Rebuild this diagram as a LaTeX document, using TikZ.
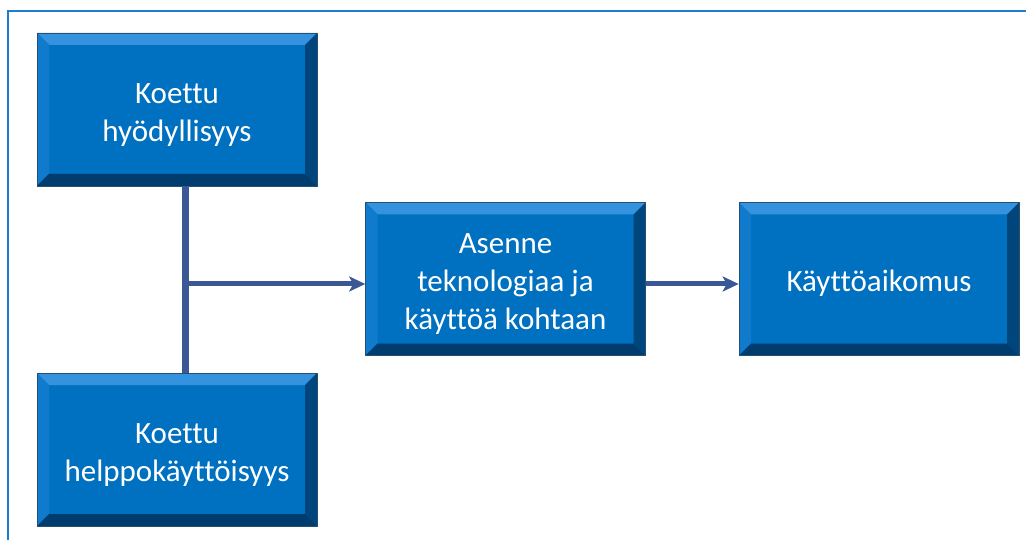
\documentclass[tikz,border=0pt]{standalone}
\usepackage{fontspec}
\setmainfont[Ligatures=NoCommon]{Carlito}
\usetikzlibrary{arrows.meta,calc}
\definecolor{face}{RGB}{0,112,192}
\definecolor{bevtop}{RGB}{52,146,222}
\definecolor{bevleft}{RGB}{16,122,204}
\definecolor{bevright}{RGB}{0,70,124}
\definecolor{bevbot}{RGB}{0,60,110}
\definecolor{linkc}{RGB}{58,88,150}
\definecolor{framec}{RGB}{30,125,205}
\newcommand{\bxtxt}[1]{\raisebox{-5pt}[\height][\depth]{\begin{tabular}{@{}c@{}}#1\end{tabular}}}
\tikzset{
  bevelbox/.style={fill=face, draw=bevbot!70!gray, line width=0.6pt,
    minimum width=280pt, minimum height=153pt, inner sep=0pt,
    text=white, align=center, font=\fontsize{31}{38}\selectfont,
    path picture={
      \coordinate (pnw) at (path picture bounding box.north west);
      \coordinate (pne) at (path picture bounding box.north east);
      \coordinate (psw) at (path picture bounding box.south west);
      \coordinate (pse) at (path picture bounding box.south east);
      \fill[bevtop] (pnw) -- (pne) -- ([xshift=-12pt,yshift=-12pt]pne) -- ([xshift=12pt,yshift=-12pt]pnw) -- cycle;
      \fill[bevleft] (pnw) -- (psw) -- ([xshift=12pt,yshift=12pt]psw) -- ([xshift=12pt,yshift=-12pt]pnw) -- cycle;
      \fill[bevright] (pne) -- (pse) -- ([xshift=-12pt,yshift=12pt]pse) -- ([xshift=-12pt,yshift=-12pt]pne) -- cycle;
      \fill[bevbot] (psw) -- (pse) -- ([xshift=-12pt,yshift=12pt]pse) -- ([xshift=12pt,yshift=12pt]psw) -- cycle;
    }},
  trunk/.style={draw=linkc, line width=7pt},
  link/.style={draw=linkc, line width=5pt, -{Stealth[length=16pt,width=15pt,inset=4pt]}},
  framel/.style={draw=framec, line width=2pt}
}
\begin{document}
\begin{tikzpicture}[x=1pt,y=-1pt]
\useasboundingbox (0,0) rectangle (1026,540);
\fill[white] (0,0) rectangle (1026,540);
\coordinate (fr) at (1026,11);
\coordinate (fc) at (8,11);
\coordinate (fb) at (8,540);
\draw[framel] (fb) -- (fc) -- (fr);
\node[bevelbox] (b1) at (177,109.5) {\bxtxt{Koettu\\hyödyllisyys}};
\node[bevelbox] (b2) at (177,449.5) {\bxtxt{Koettu\\helppokäyttöisyys}};
\node[bevelbox] (mid) at (505.5,279) {\bxtxt{Asenne\\teknologiaa ja\\käyttöä kohtaan}};
\node[bevelbox] (res) at (879,279) {\bxtxt{Käyttöaikomus}};
\coordinate (j) at (185,284);
\draw[trunk] (j |- b1.south) -- (j |- b2.north);
\draw[link] ([xshift=-3.5pt]j) -- (j -| mid.west);
\draw[link] (mid.east |- j) -- (res.west |- j);
\end{tikzpicture}
\end{document}
